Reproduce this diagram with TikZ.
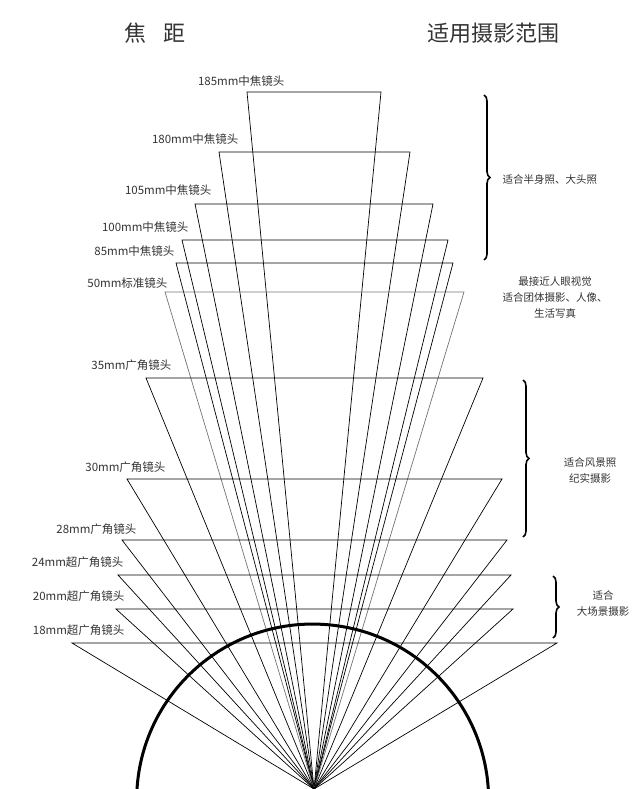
\documentclass[tikz,border=0pt]{standalone}
\usepackage{fontspec}
\setmainfont{Noto Sans CJK SC}
\usetikzlibrary{decorations.pathreplacing}
\begin{document}
\begin{tikzpicture}[x=1pt,y=-1pt,
 lab/.style={anchor=east,font=\fontsize{11.5}{13}\selectfont,text=black!80},
 note/.style={align=center,font=\fontsize{10.5}{16}\selectfont,text=black!80},
 ray/.style={line width=0.7pt},
 br/.style={decorate,decoration={brace,amplitude=6pt},line width=1.6pt}]
\useasboundingbox (0,0) rectangle (640,789);
\node[font=\fontsize{22}{24}\selectfont,text=black!80] (t1) at (155,33) {焦\hspace{0.8em}距};
\node[font=\fontsize{22}{24}\selectfont,text=black!80] (t2) at (493,33) {适用摄影范围};
\coordinate (O) at (314,789);
\foreach \y/\a/\b/\c/\n/\lx/\ly/\t in {
 92/247/381/black/a/288/81/185mm中焦镜头,
 152/219/410/black/b/242/139/180mm中焦镜头,
 204/195/433/black/c/215/190/105mm中焦镜头,
 240/182/448/black/d/192/227/100mm中焦镜头,
 263/176/453/black/e/178/251/85mm中焦镜头,
 292/165/464/black!55/f/171/283/50mm标准镜头,
 378/146/483/black/g/175/365/35mm广角镜头,
 479/127/502/black/h/169/467/30mm广角镜头,
 540/122/507/black/i/140/529/28mm广角镜头,
 575/118/511/black/j/127/562/24mm超广角镜头,
 609/116/513/black/k/128/596/20mm超广角镜头,
 643/72/557/black/l/128/630/18mm超广角镜头}{
 \coordinate (L\n) at (\a,\y);
 \coordinate (R\n) at (\b,\y);
 \draw[ray,draw=\c] (O) -- (L\n) -- (R\n) -- (O);
 \node[lab] (lab\n) at (\lx,\ly) {\t};
}
\draw[line width=3pt] (137,789) arc[start angle=183.6,end angle=356.4,radius=176];
\coordinate (b1a) at (484,95); \coordinate (b1b) at (484,260);
\draw[br] (b1a) -- (b1b);
\node[note,anchor=west] (n1) at (499,180) {适合半身照、大头照};
\node[note] (n2) at (555,298) {最接近人眼视觉\\适合团体摄影、人像、\\生活写真};
\coordinate (b2a) at (523,380); \coordinate (b2b) at (523,537);
\draw[br] (b2a) -- (b2b);
\node[note] (n3) at (590,470) {适合风景照\\纪实摄影};
\coordinate (b3a) at (553,576); \coordinate (b3b) at (553,638);
\draw[br] (b3a) -- (b3b);
\node[note] (n4) at (603,603) {适合\\大场景摄影};
\end{tikzpicture}
\end{document}
